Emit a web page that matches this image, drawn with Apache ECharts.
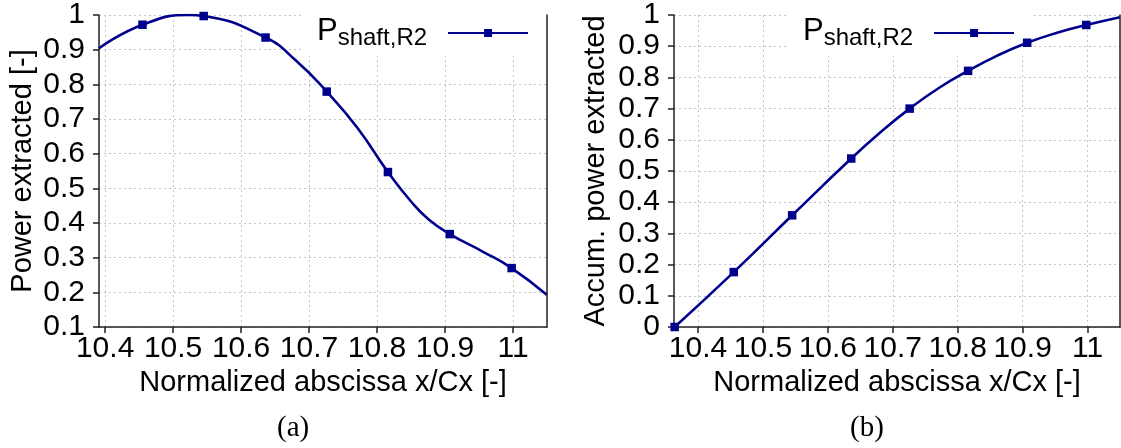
<!DOCTYPE html>
<html>
<head>
<meta charset="utf-8">
<script src="https://cdn.jsdelivr.net/npm/echarts@6/dist/echarts.min.js"></script>
<style>
html, body { margin: 0; padding: 0; background: #fff; }
#chart { width: 1121px; height: 448px; }
</style>
</head>
<body>
<div id="chart"></div>
<script>
// data
var seriesName = 'P_shaft,R2';
var xTicks = [10.4, 10.5, 10.6, 10.7, 10.8, 10.9, 11];
var markerX = [10.364, 10.455, 10.545, 10.636, 10.726, 10.816, 10.907, 10.998];

// (a) power extracted
var powerX = [10.391, 10.455, 10.524, 10.545, 10.636, 10.681, 10.726, 10.771, 10.816, 10.85, 10.876, 10.907, 10.956, 10.998, 11.05];
var powerY = [0.904, 0.972, 1.0, 0.997, 0.935, 0.868, 0.779, 0.675, 0.547, 0.462, 0.410, 0.368, 0.317, 0.270, 0.192];

// (b) accumulated power extracted
var accumX = [10.364, 10.455, 10.545, 10.636, 10.681, 10.726, 10.771, 10.816, 10.861, 10.907, 10.953, 10.998, 11.05];
var accumY = [0, 0.176, 0.358, 0.540, 0.624, 0.700, 0.766, 0.821, 0.870, 0.911, 0.943, 0.968, 0.993];

var FONT = 'Liberation Sans';
var BLUE = '#00008c';

function build_data(xs, ys) {  // markers only on the sampled stations
    var out = [];
    for (var i = 0; i < xs.length; i++) {
        var mark = markerX.indexOf(xs[i]) >= 0;
        out.push({value: [xs[i], ys[i]], symbol: mark ? 'rect' : 'none'});
    }
    return out;
}

var gridLine = {show: true, lineStyle: {color: '#c4c4c4', width: 1, type: [2, 3]}};
var axLine = {show: true, onZero: false, lineStyle: {color: '#222', width: 1.5}};

function x_axis(idx, min) {
    return {
        gridIndex: idx, type: 'value', min: min, max: 11.05,
        name: 'Normalized abscissa x/Cx [-]', nameLocation: 'middle', nameGap: 40,
        nameTextStyle: {fontFamily: FONT, fontSize: 29, color: '#000'},
        axisLine: axLine,
        axisTick: {show: true, length: 6, customValues: xTicks, lineStyle: {color: '#222', width: 1.5}},
        axisLabel: {customValues: xTicks, margin: 7, fontFamily: FONT, fontSize: 30, color: '#000'},
        splitLine: gridLine
    };
}

function y_axis(idx, min, name, gap) {
    return {
        gridIndex: idx, type: 'value', min: min, max: 1, interval: 0.1,
        name: name, nameLocation: 'middle', nameGap: gap,
        nameTextStyle: {fontFamily: FONT, fontSize: 29, color: '#000'},
        axisLine: axLine,
        axisTick: {show: true, length: 6, lineStyle: {color: '#222', width: 1.5}},
        axisLabel: {margin: 14, fontFamily: FONT, fontSize: 30, color: '#000'},
        splitLine: gridLine
    };
}

function border_axis(idx, min) {  // right frame line, drawn above the legend box
    return {
        gridIndex: idx, type: 'value', position: 'right', min: min, max: 1, z: 6,
        axisLine: {show: true, lineStyle: {color: '#222', width: 1.5}},
        axisTick: {show: false}, axisLabel: {show: false}, splitLine: {show: false}
    };
}

function legend_cfg(left) {
    return {
        data: [seriesName], left: left, top: 6, z: 3,
        align: 'right', itemWidth: 80, itemHeight: 10,
        backgroundColor: '#fff',
        padding: [6, 19, 6, 14],
        formatter: function () { return '{p|P}{s|shaft,R2}'; },
        textStyle: {
            color: '#000', fontFamily: FONT,
            rich: {
                p: {fontSize: 31, fontFamily: FONT, color: '#000', lineHeight: 34, verticalAlign: 'top'},
                s: {fontSize: 24, fontFamily: FONT, color: '#000', lineHeight: 24, verticalAlign: 'bottom', padding: [14, 16, 0, 0]}
            }
        }
    };
}

function line_series(xi, yi, xs, ys) {
    return {
        name: seriesName, type: 'line', xAxisIndex: xi, yAxisIndex: yi, z: 5,
        smooth: 0.5, data: build_data(xs, ys),
        symbol: 'rect', symbolSize: 8.5, color: BLUE,
        lineStyle: {color: BLUE, width: 2.6},
        itemStyle: {color: BLUE},
        emphasis: {disabled: true}
    };
}

var chart = echarts.init(document.getElementById('chart'));
var option = {
    backgroundColor: '#fff',
    animation: false,
    grid: [
        {left: 99, top: 14, width: 448, height: 313},
        {left: 674, top: 14, width: 446, height: 313}
    ],
    xAxis: [x_axis(0, 10.391), x_axis(1, 10.363)],
    yAxis: [
        y_axis(0, 0.1, 'Power extracted [-]', 62),
        y_axis(1, 0, 'Accum. power extracted', 64),
        border_axis(0, 0.1),
        border_axis(1, 0)
    ],
    legend: [legend_cfg(303), legend_cfg(789)],
    series: [
        line_series(0, 0, powerX, powerY),
        line_series(1, 1, accumX, accumY)
    ],
    graphic: [
        {type: 'text', left: 277, top: 414, style: {text: '(a)', font: '29px "Liberation Serif"', fill: '#000'}},
        {type: 'text', left: 850, top: 414, style: {text: '(b)', font: '29px "Liberation Serif"', fill: '#000'}}
    ]
};
chart.setOption(option);
</script>
</body>
</html>
